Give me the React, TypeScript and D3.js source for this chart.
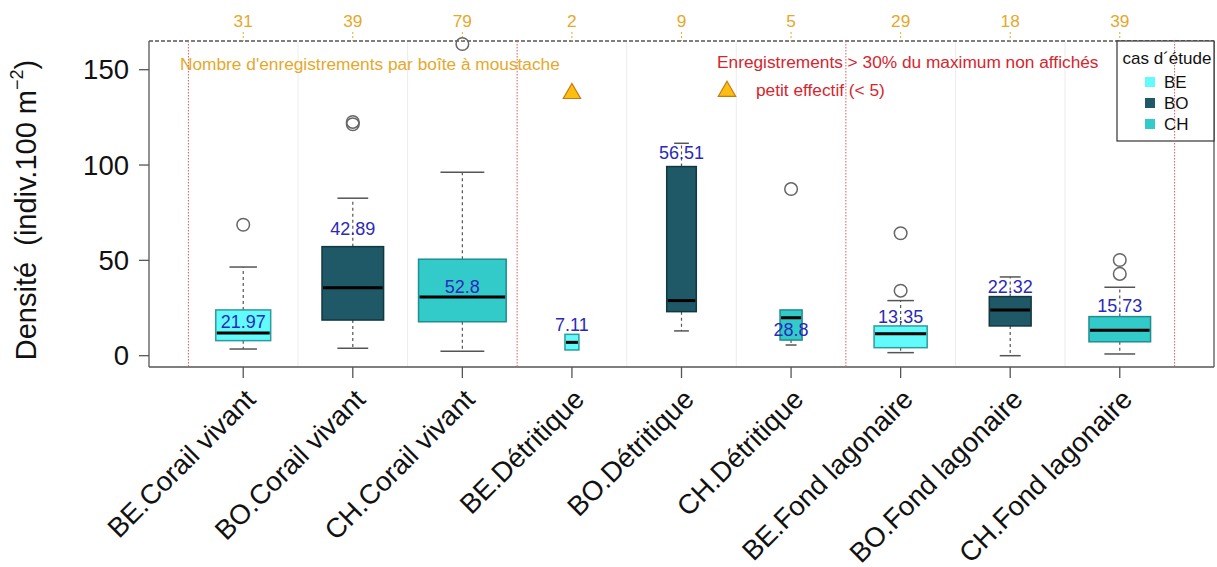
import React from "react";
import * as d3 from "d3";

// Box-plot groups: habitat x study site
const categories = [
  "BE.Corail vivant",
  "BO.Corail vivant",
  "CH.Corail vivant",
  "BE.Détritique",
  "BO.Détritique",
  "CH.Détritique",
  "BE.Fond lagonaire",
  "BO.Fond lagonaire",
  "CH.Fond lagonaire",
];
const sites = ["BE", "BO", "CH", "BE", "BO", "CH", "BE", "BO", "CH"];
const counts = [31, 39, 79, 2, 9, 5, 29, 18, 39];

// Five-number summaries (indiv.100 m-2)
const whiskerLow = [3.5, 3.9, 2.3, 3.0, 13.0, 5.6, 1.6, 0.0, 0.9];
const q1 = [7.9, 18.7, 17.8, 3.0, 23.1, 8.2, 4.2, 15.6, 7.3];
const medians = [11.9, 35.7, 30.8, 7.0, 28.9, 19.9, 11.5, 24.0, 13.3];
const q3 = [24.0, 57.2, 50.6, 11.2, 99.2, 24.0, 15.6, 31.0, 20.5];
const whiskerHigh = [46.5, 82.6, 96.2, 11.2, 111.4, 24.0, 28.9, 41.3, 35.9];
const outliers = [[68.7], [121.4, 122.6], [163.5], [], [], [87.4], [34.1, 64.2], [], [42.9, 50.2]];

// Mean labels and the height at which each is written
const meanLabels = ["21.97", "42.89", "52.8", "7.11", "56.51", "28.8", "13.35", "22.32", "15.73"];
const meanLabelAt = [17.6, 66.5, 36.2, 16.1, 106.2, 13.5, 20.5, 36.2, 26.1];

const yTicks = [0, 50, 100, 150];
const habitatBreaks = [0.5, 3.5, 6.5, 9.5];
const gridBreaks = [1.5, 2.5, 4.5, 5.5, 7.5, 8.5];
const smallSampleLimit = 5;
const smallSampleMarkAt = 138.2;

const legendSites = ["BE", "BO", "CH"];
const fillColors: Record<string, string> = { BE: "#62FBFB", BO: "#1F5866", CH: "#33CACA" };
const borderColors: Record<string, string> = { BE: "#2E9C9C", BO: "#123840", CH: "#1F8E8E" };

const W = 1217;
const H = 567;
const FONT = "'Liberation Sans', Arial, Helvetica, sans-serif";
const GOLD = "#E6A82A";
const RED = "#D5262E";
const BLUE = "#2A2ABA";

export default function App() {
  const left = 149;
  const right = 1214;
  const top = 41;
  const bottom = 367;

  const x = d3.scaleLinear().domain([0.14, 9.86]).range([left, right]);
  const y = d3.scaleLinear().domain([-5.93, 165.05]).range([bottom, top]);
  const maxRoot = Math.sqrt(d3.max(counts) as number);
  const boxW = (n: number) => x(0.8 * Math.sqrt(n) / maxRoot) - x(0);

  const tri = (cx: number, cy: number, s: number) =>
    `M${cx},${cy - s * 0.62} L${cx + s * 0.62},${cy + s * 0.45} L${cx - s * 0.62},${cy + s * 0.45} Z`;

  return (
    <svg
      width={W}
      height={H}
      viewBox={`0 0 ${W} ${H}`}
      style={{ position: "absolute", left: 0, top: 0, background: "#fff" }}
      fontFamily={FONT}
    >
      <rect x={0} y={0} width={W} height={H} fill="#fff" />

      {/* faint separators between boxes */}
      {gridBreaks.map((g) => (
        <line key={"g" + g} x1={x(g)} x2={x(g)} y1={top} y2={bottom} stroke="#ececec" strokeWidth={1} />
      ))}

      {/* frame */}
      <line x1={left} x2={left} y1={top} y2={bottom} stroke="#555" strokeWidth={1.3} />
      <line x1={left} x2={right} y1={bottom} y2={bottom} stroke="#555" strokeWidth={1.3} />
      <line x1={right} x2={right} y1={top} y2={bottom} stroke="#555" strokeWidth={1.3} />
      <line x1={left} x2={right} y1={top} y2={top} stroke="#555" strokeWidth={1.3} strokeDasharray="4,2" />

      {/* y axis */}
      {yTicks.map((t) => (
        <g key={"y" + t}>
          <line x1={left - 10} x2={left} y1={y(t)} y2={y(t)} stroke="#555" strokeWidth={1.3} />
          <text x={left - 20} y={y(t)} fontSize={27.5} textAnchor="end" dominantBaseline="central" fill="#111">
            {t}
          </text>
        </g>
      ))}
      <text
        transform={`translate(36,${(top + bottom) / 2 + 6}) rotate(-90)`}
        fontSize={29}
        textAnchor="middle"
        fill="#111"
        style={{ whiteSpace: "pre" }}
      >
        {"Densité  (indiv.100 m"}
        <tspan fontSize={18} dy={-13}>{"−2"}</tspan>
        <tspan dy={13}>{")"}</tspan>
      </text>

      {/* bottom axis */}
      {categories.map((c, i) => {
        const cx = x(i + 1);
        return (
          <g key={"xb" + i}>
            <line x1={cx} x2={cx} y1={bottom} y2={bottom + 11} stroke="#555" strokeWidth={1.3} />
            <text
              transform={`translate(${cx + 14},${bottom + 34}) rotate(-45)`}
              fontSize={27.5}
              textAnchor="end"
              fill="#111"
            >
              {c}
            </text>
          </g>
        );
      })}

      {/* top axis: number of records per box */}
      {counts.map((n, i) => {
        const cx = x(i + 1);
        return (
          <g key={"xt" + i}>
            <line x1={cx} x2={cx} y1={top - 9} y2={top} stroke={GOLD} strokeWidth={1} strokeDasharray="2,2" />
            <text x={cx} y={21} fontSize={17.3} textAnchor="middle" dominantBaseline="central" fill={GOLD}>
              {n}
            </text>
          </g>
        );
      })}

      {/* annotations */}
      <text x={180} y={64} fontSize={17.3} dominantBaseline="central" fill={GOLD}>
        Nombre d'enregistrements par boîte à moustache
      </text>
      <text x={717} y={62} fontSize={17.3} dominantBaseline="central" fill={RED}>
        Enregistrements &gt; 30% du maximum non affichés
      </text>
      <path d={tri(727, 90, 14)} fill="#FDBE12" stroke="#C77A10" strokeWidth={1.2} />
      <text x={756} y={90} fontSize={17.3} dominantBaseline="central" fill={RED}>
        petit effectif (&lt; 5)
      </text>

      {/* boxes */}
      {categories.map((c, i) => {
        const cx = x(i + 1);
        const bw = boxW(counts[i]);
        const site = sites[i];
        const capW = bw / 2;
        return (
          <g key={"b" + i}>
            {whiskerHigh[i] > q3[i] && (
              <>
                <line x1={cx} x2={cx} y1={y(q3[i])} y2={y(whiskerHigh[i])} stroke="#555" strokeWidth={1.2} strokeDasharray="3,3" />
                <line x1={cx - capW / 2} x2={cx + capW / 2} y1={y(whiskerHigh[i])} y2={y(whiskerHigh[i])} stroke="#555" strokeWidth={1.5} />
              </>
            )}
            {whiskerLow[i] < q1[i] && (
              <>
                <line x1={cx} x2={cx} y1={y(q1[i])} y2={y(whiskerLow[i])} stroke="#555" strokeWidth={1.2} strokeDasharray="3,3" />
                <line x1={cx - capW / 2} x2={cx + capW / 2} y1={y(whiskerLow[i])} y2={y(whiskerLow[i])} stroke="#555" strokeWidth={1.5} />
              </>
            )}
            <rect
              x={cx - bw / 2}
              y={y(q3[i])}
              width={bw}
              height={y(q1[i]) - y(q3[i])}
              fill={fillColors[site]}
              stroke={borderColors[site]}
              strokeWidth={1.5}
            />
            <line x1={cx - bw / 2 + 1} x2={cx + bw / 2 - 1} y1={y(medians[i])} y2={y(medians[i])} stroke="#000" strokeWidth={3} />
            {outliers[i].map((o, k) => (
              <circle key={k} cx={cx} cy={y(o)} r={6.3} fill="none" stroke="#666" strokeWidth={1.5} />
            ))}
            {counts[i] < smallSampleLimit && (
              <path d={tri(cx, y(smallSampleMarkAt), 14)} fill="#FDBE12" stroke="#C77A10" strokeWidth={1.2} />
            )}
            <text x={cx} y={y(meanLabelAt[i])} fontSize={18} textAnchor="middle" dominantBaseline="central" fill={BLUE}>
              {meanLabels[i]}
            </text>
          </g>
        );
      })}

      {/* legend */}
      <rect x={1117} y={top} width={right - 1117} height={100} fill="#fff" stroke="#333" strokeWidth={1.2} />
      <text x={1167} y={58} fontSize={17} textAnchor="middle" dominantBaseline="central" fill="#111">
        cas d´étude
      </text>
      {legendSites.map((s, k) => (
        <g key={"l" + s}>
          <rect x={1145} y={82 + k * 21 - 5} width={10} height={10} fill={fillColors[s]} />
          <text x={1164} y={82 + k * 21} fontSize={17} dominantBaseline="central" fill="#111">
            {s}
          </text>
        </g>
      ))}

      {/* habitat boundaries */}
      {habitatBreaks.map((b) => (
        <line key={"h" + b} x1={x(b)} x2={x(b)} y1={top} y2={bottom} stroke="#E06A6A" strokeWidth={1.1} strokeDasharray="1.5,1.5" />
      ))}
    </svg>
  );
}
